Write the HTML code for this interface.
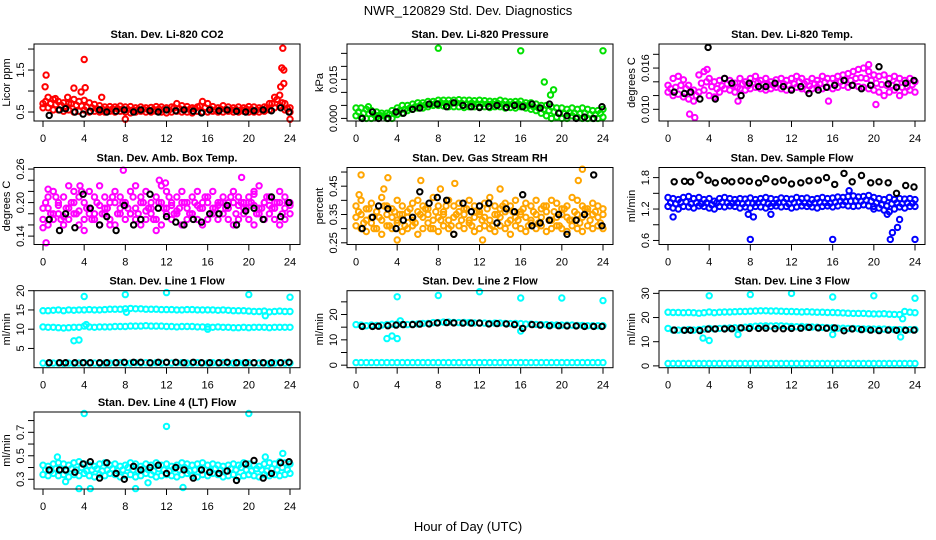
<!DOCTYPE html>
<html><head><meta charset="utf-8">
<style>
html,body{margin:0;padding:0;background:#fff;}
svg{display:block;font-family:"Liberation Sans",Arial,sans-serif;}
</style></head>
<body>
<svg id="chart" width="936" height="540" viewBox="0 0 936 540" xmlns="http://www.w3.org/2000/svg">
<rect width="936" height="540" fill="#fff"/>
<text x="468" y="15" text-anchor="middle" font-size="13">NWR_120829  Std. Dev. Diagnostics</text>
<text x="468" y="531" text-anchor="middle" font-size="13">Hour of Day (UTC)</text>
<g id="plots"></g>
</svg>
<script>
// shared categories (hour of day)
const hrs=[0,0.5,1,1.5,2,2.5,3,3.5,4,4.5,5,5.5,6,6.5,7,7.5,8,8.5,9,9.5,10,10.5,11,11.5,12,12.5,13,13.5,14,14.5,15,15.5,16,16.5,17,17.5,18,18.5,19,19.5,20,20.5,21,21.5,22,22.5,23,23.5,24];
const hrsM=[0.25,0.75,1.25,1.75,2.25,2.75,3.25,3.75,4.25,4.75,5.25,5.75,6.25,6.75,7.25,7.75,8.25,8.75,9.25,9.75,10.25,10.75,11.25,11.75,12.25,12.75,13.25,13.75,14.25,14.75,15.25,15.75,16.25,16.75,17.25,17.75,18.25,18.75,19.25,19.75,20.25,20.75,21.25,21.75,22.25,22.75,23.25,23.75];
const hrsB=[0.6,1.6,2.2,3.1,3.9,4.6,5.5,6.2,7.1,7.9,8.8,9.5,10.4,11.2,12,12.9,13.7,14.6,15.4,16.2,17.1,17.9,18.8,19.7,20.5,21.4,22.2,23.1,23.9];

// Panel 1: CO2
const co2A=[0.7,0.85,0.8,0.75,0.72,0.7,0.8,0.75,0.78,0.72,0.68,0.65,0.62,0.63,0.62,0.64,0.62,0.63,0.6,0.62,0.6,0.61,0.63,0.62,0.6,0.62,0.7,0.65,0.63,0.6,0.62,0.75,0.7,0.63,0.6,0.65,0.62,0.6,0.62,0.6,0.63,0.62,0.6,0.62,0.7,0.85,0.9,0.7,0.6];
const co2B=[0.6,0.6,0.55,0.55,0.52,0.55,0.5,0.52,0.55,0.5,0.52,0.5,0.5,0.52,0.5,0.52,0.5,0.48,0.5,0.52,0.5,0.5,0.52,0.5,0.48,0.5,0.52,0.5,0.5,0.48,0.52,0.5,0.5,0.52,0.5,0.5,0.52,0.5,0.5,0.52,0.5,0.5,0.5,0.52,0.55,0.6,0.65,0.55,0.5];
const co2M=[0.75,0.7,0.68,0.66,0.62,0.7,0.66,0.64,0.62,0.6,0.58,0.57,0.56,0.57,0.58,0.57,0.56,0.55,0.56,0.57,0.55,0.56,0.57,0.56,0.55,0.6,0.58,0.56,0.56,0.58,0.64,0.6,0.57,0.55,0.57,0.56,0.55,0.56,0.55,0.57,0.56,0.55,0.56,0.6,0.7,0.8,0.72,0.58];
const co2Ox=[0.3,0.2,4,4.1,3,23.3,23.2,23.4,23.4,23.1,24,8,2.4,1.2,3.7,5.7];
const co2Oy=[1.38,1.1,1.75,1.08,1.07,2.02,1.55,1.5,1.18,1.1,0.33,0.33,0.85,0.82,0.98,0.85];
const co2K=[0.42,0.55,0.58,0.5,0.45,0.52,0.55,0.5,0.52,0.55,0.5,0.55,0.53,0.5,0.55,0.53,0.55,0.52,0.48,0.55,0.53,0.55,0.52,0.5,0.53,0.55,0.53,0.6,0.5];

// Panel 2: Pressure
const prA=[0.004,0.004,0.0035,0.003,0.0025,0.002,0.002,0.003,0.004,0.005,0.005,0.0055,0.006,0.006,0.0065,0.0065,0.007,0.007,0.007,0.007,0.0072,0.007,0.007,0.0068,0.007,0.0068,0.0066,0.0065,0.007,0.0066,0.0064,0.0065,0.0066,0.006,0.006,0.0055,0.005,0.005,0.0045,0.004,0.004,0.0035,0.004,0.0035,0.004,0.0035,0.003,0.003,0.0035];
const prB=[0.001,0.0005,0,0,0.0005,0.001,0,0,0.0015,0.002,0.003,0.0035,0.004,0.004,0.0045,0.005,0.005,0.0048,0.0045,0.0045,0.0045,0.0042,0.0045,0.0045,0.0045,0.0045,0.0042,0.0045,0.0045,0.004,0.0042,0.004,0.0045,0.004,0.0035,0.003,0.002,0.001,0,0.0005,0,0,0.001,0.0005,0,0,0,0,0.0005];
const prM=[0.0025,0.002,0.0018,0.0015,0.0012,0.001,0.0015,0.002,0.003,0.0035,0.004,0.0045,0.005,0.0052,0.0055,0.0058,0.006,0.0058,0.0058,0.006,0.0058,0.0056,0.0058,0.0056,0.0056,0.0055,0.0056,0.0058,0.0055,0.0054,0.0055,0.0056,0.0052,0.005,0.0045,0.004,0.0035,0.003,0.0025,0.002,0.0018,0.0022,0.002,0.0018,0.002,0.0015,0.0015,0.002];
const prOx=[8,16,24,18.3,19.2,18.9,1.2];
const prOy=[0.027,0.026,0.026,0.014,0.011,0.009,0.0045];
const prK=[0,0.0025,0,0,0.0025,0.002,0.0035,0.004,0.0055,0.0055,0.0045,0.006,0.005,0.0045,0.0042,0.0045,0.005,0.0042,0.005,0.0045,0.0055,0.004,0.0055,0.002,0.001,0,0.0005,0,0.0045];

// Panel 3: Li-820 Temp
const tA=[0.0135,0.0145,0.0148,0.0143,0.0135,0.0128,0.015,0.0155,0.0145,0.014,0.0142,0.0145,0.0142,0.0138,0.0145,0.014,0.0145,0.0148,0.0142,0.0145,0.014,0.0143,0.0145,0.0142,0.0145,0.0148,0.0145,0.014,0.0145,0.0142,0.0148,0.0145,0.0145,0.0148,0.015,0.0152,0.0155,0.0158,0.016,0.0155,0.015,0.0148,0.015,0.0145,0.0148,0.0145,0.0142,0.0145,0.014];
const tB=[0.0125,0.012,0.0122,0.0118,0.0115,0.0112,0.0125,0.0128,0.012,0.0118,0.0125,0.013,0.0128,0.0125,0.013,0.0128,0.013,0.0132,0.013,0.0128,0.013,0.0132,0.013,0.0128,0.013,0.0132,0.013,0.0128,0.013,0.0132,0.013,0.0132,0.013,0.0132,0.0135,0.0132,0.0135,0.0133,0.0132,0.013,0.0128,0.0125,0.012,0.0125,0.0128,0.012,0.0125,0.0128,0.0125];
const tM=[0.013,0.0132,0.0135,0.013,0.0125,0.012,0.0138,0.014,0.0133,0.013,0.0134,0.0137,0.0135,0.0132,0.0137,0.0134,0.0137,0.0139,0.0136,0.0136,0.0135,0.0137,0.0137,0.0135,0.0137,0.014,0.0137,0.0134,0.0137,0.0137,0.0139,0.0138,0.0138,0.014,0.0142,0.0142,0.0145,0.0146,0.0145,0.0142,0.0138,0.0136,0.0135,0.0135,0.0138,0.0132,0.0133,0.0136];
const tOx=[2.1,2.6,4.6,3.8,20.2,15.6,6.8,19.5];
const tOy=[0.0093,0.0088,0.0117,0.0158,0.0107,0.0112,0.0112,0.0165];
const tK=[0.0125,0.0123,0.0125,0.0115,0.019,0.0115,0.0145,0.0138,0.012,0.0138,0.0133,0.0133,0.0138,0.0133,0.0128,0.0133,0.0123,0.0128,0.0132,0.0135,0.0142,0.0135,0.013,0.0135,0.0162,0.0137,0.0132,0.0138,0.0142];

// Panel 4: Amb Box Temp
const aA=[0.19,0.21,0.22,0.2,0.21,0.23,0.22,0.21,0.2,0.22,0.21,0.23,0.21,0.2,0.22,0.21,0.2,0.22,0.23,0.21,0.22,0.2,0.21,0.23,0.22,0.2,0.21,0.22,0.2,0.21,0.22,0.2,0.21,0.22,0.2,0.21,0.2,0.22,0.21,0.2,0.21,0.22,0.23,0.2,0.21,0.2,0.22,0.21,0.2];
const aB=[0.17,0.16,0.17,0.18,0.16,0.17,0.18,0.16,0.17,0.18,0.17,0.16,0.18,0.17,0.16,0.18,0.17,0.18,0.17,0.16,0.17,0.18,0.17,0.16,0.18,0.17,0.18,0.16,0.17,0.18,0.17,0.16,0.17,0.18,0.17,0.18,0.17,0.16,0.17,0.18,0.17,0.16,0.18,0.17,0.18,0.17,0.16,0.17,0.18];
const aC=[0.155,0.19,0.18,0.195,0.175,0.19,0.2,0.185,0.15,0.19,0.18,0.195,0.19,0.16,0.2,0.19,0.195,0.18,0.19,0.2,0.185,0.19,0.15,0.2,0.19,0.195,0.185,0.2,0.19,0.18,0.195,0.19,0.2,0.19,0.195,0.2,0.19,0.2,0.195,0.19,0.2,0.195,0.19,0.2,0.195,0.19,0.2,0.19,0.195];
const aM=[0.2,0.18,0.21,0.17,0.19,0.2,0.18,0.22,0.19,0.17,0.2,0.18,0.19,0.21,0.18,0.2,0.19,0.21,0.18,0.2,0.19,0.17,0.2,0.19,0.21,0.18,0.19,0.2,0.18,0.2,0.19,0.21,0.18,0.19,0.2,0.19,0.21,0.18,0.2,0.19,0.2,0.18,0.19,0.21,0.19,0.2,0.18,0.2];
const aOx=[0.3,7.8,11.3,19.3,11.9,3.6,0.5,20.5];
const aOy=[0.128,0.258,0.24,0.245,0.235,0.23,0.224,0.215];
const aK=[0.17,0.15,0.18,0.155,0.215,0.19,0.16,0.175,0.15,0.195,0.16,0.17,0.215,0.19,0.175,0.165,0.16,0.17,0.165,0.18,0.18,0.195,0.16,0.185,0.19,0.17,0.21,0.175,0.2];

// Panel 5: Gas Stream RH
const rA=[0.38,0.4,0.37,0.39,0.36,0.41,0.38,0.37,0.4,0.38,0.36,0.39,0.4,0.38,0.37,0.41,0.38,0.36,0.4,0.38,0.39,0.37,0.4,0.38,0.36,0.39,0.41,0.38,0.37,0.39,0.38,0.4,0.36,0.39,0.38,0.4,0.37,0.38,0.4,0.39,0.37,0.38,0.41,0.4,0.38,0.37,0.39,0.38,0.37];
const rB=[0.31,0.3,0.29,0.32,0.3,0.28,0.31,0.3,0.32,0.29,0.3,0.31,0.28,0.3,0.32,0.3,0.29,0.31,0.3,0.28,0.31,0.3,0.32,0.29,0.3,0.31,0.3,0.29,0.31,0.3,0.28,0.31,0.3,0.29,0.32,0.3,0.31,0.29,0.3,0.31,0.3,0.29,0.31,0.3,0.29,0.31,0.3,0.31,0.3];
const rC=[0.34,0.35,0.33,0.34,0.36,0.33,0.35,0.34,0.33,0.35,0.34,0.33,0.36,0.34,0.35,0.33,0.34,0.35,0.33,0.34,0.36,0.35,0.33,0.34,0.35,0.34,0.33,0.35,0.34,0.36,0.33,0.34,0.35,0.34,0.33,0.35,0.34,0.36,0.33,0.34,0.35,0.34,0.33,0.35,0.34,0.36,0.35,0.34,0.35];
const rM=[0.36,0.32,0.37,0.3,0.34,0.38,0.31,0.36,0.35,0.31,0.37,0.32,0.35,0.37,0.3,0.36,0.33,0.38,0.31,0.35,0.33,0.37,0.31,0.36,0.33,0.37,0.31,0.35,0.38,0.32,0.36,0.33,0.37,0.31,0.36,0.32,0.38,0.33,0.36,0.31,0.37,0.33,0.36,0.32,0.37,0.33,0.36,0.32];
const rOx=[0.5,3.1,6.3,22,0.3,8.2,9.6,21.6,2.7,14,4,12.3];
const rOy=[0.49,0.48,0.47,0.51,0.42,0.44,0.46,0.47,0.44,0.44,0.26,0.26];
const rK=[0.3,0.34,0.38,0.37,0.3,0.33,0.34,0.43,0.39,0.41,0.4,0.28,0.39,0.36,0.38,0.39,0.32,0.37,0.36,0.42,0.31,0.32,0.33,0.35,0.28,0.33,0.35,0.49,0.31];

// Panel 6: Sample Flow
const sA=[1.42,1.4,1.38,1.42,1.44,1.4,1.42,1.38,1.4,1.35,1.4,1.42,1.4,1.38,1.4,1.39,1.41,1.38,1.4,1.42,1.4,1.38,1.41,1.4,1.39,1.42,1.4,1.41,1.38,1.4,1.42,1.4,1.41,1.43,1.42,1.44,1.45,1.43,1.44,1.46,1.42,1.4,1.38,1.42,1.38,1.4,1.39,1.4,1.38];
const sB=[1.25,1.22,1.2,1.25,1.24,1.22,1.26,1.25,1.22,1.2,1.25,1.24,1.26,1.25,1.22,1.24,1.22,1.25,1.24,1.22,1.25,1.26,1.24,1.25,1.22,1.24,1.26,1.25,1.24,1.22,1.25,1.26,1.24,1.26,1.28,1.26,1.25,1.26,1.28,1.26,1.25,1.22,1.18,1.15,1.2,1.24,1.22,1.25,1.25];
const sM=[1.32,1.3,1.33,1.34,1.3,1.32,1.3,1.32,1.28,1.32,1.33,1.32,1.31,1.32,1.3,1.32,1.31,1.32,1.33,1.3,1.31,1.32,1.33,1.3,1.32,1.33,1.32,1.3,1.32,1.33,1.32,1.31,1.33,1.35,1.34,1.35,1.36,1.35,1.37,1.35,1.32,1.28,1.26,1.3,1.32,1.3,1.32,1.31];
const sOx=[8,16,24,21.6,21.8,22.3,22.5,0.5,7.8,8.3,10,21.3,20,17.6];
const sOy=[0.62,0.62,0.62,0.62,0.75,0.85,1.0,1.05,1.1,1.05,1.1,1.1,1.2,1.55];
const sK=[1.72,1.73,1.72,1.85,1.75,1.7,1.74,1.72,1.74,1.73,1.7,1.78,1.72,1.75,1.68,1.7,1.74,1.75,1.8,1.67,1.88,1.72,1.84,1.7,1.72,1.7,1.5,1.65,1.62];

// Panel 7: Line 1 Flow
const l1A=[14.8,14.8,14.9,15,14.8,15,14.9,15,15,15.1,15,15,15.1,15.2,15.2,15.2,15.3,15.4,15.3,15.3,15.2,15.2,15.2,15.1,15.1,15.1,15,15,15.1,15.1,15,15,15,15,14.9,15,14.9,14.8,14.8,14.8,14.7,14.6,14.6,14.7,14.5,14.6,14.7,14.6,14.6];
const l1B=[10.6,10.5,10.5,10.4,10.3,10.4,10.5,10.5,10.8,10.6,10.5,10.6,10.6,10.6,10.7,10.7,10.7,10.8,10.8,10.8,10.9,10.8,10.8,10.8,10.7,10.7,10.6,10.7,10.7,10.7,10.6,10.6,10.6,10.5,10.6,10.5,10.5,10.4,10.4,10.5,10.4,10.5,10.5,10.5,10.4,10.5,10.5,10.5,10.5];
const l1C=[1.2,1.1,1.2,1.2,1.1,1.2,1.1,1.2,1.3,1.2,1.2,1.1,1.2,1.2,1.3,1.3,1.2,1.2,1.3,1.2,1.3,1.2,1.3,1.2,1.3,1.2,1.3,1.3,1.2,1.2,1.3,1.2,1.2,1.3,1.2,1.3,1.2,1.2,1.3,1.2,1.3,1.2,1.2,1.2,1.1,1.2,1.3,1.2,1.2];
const l1Ox=[4,8,12,20,24,3,3.5,4.2,16,21.6,8.1];
const l1Oy=[18.5,19,19.5,19,18.3,7,7.2,11.2,10,13.5,14.4];
const l1K=[1.3,1.3,1.3,1.3,1.3,1.3,1.3,1.3,1.3,1.4,1.4,1.4,1.3,1.4,1.4,1.4,1.3,1.4,1.3,1.3,1.3,1.4,1.3,1.3,1.3,1.3,1.3,1.3,1.4];

// Panel 8: Line 2 Flow
const l2A=[16,15.8,15.6,15.8,15.7,15.8,16,16.2,16.2,16.1,16,16.2,16.3,16.5,16.5,16.8,16.8,17,17,16.9,16.8,16.9,16.8,16.7,16.7,16.6,16.5,16.6,16.6,16.5,16.4,16.5,16.4,16.2,16.2,16.1,16,16,15.9,15.9,15.8,15.8,15.8,15.7,15.7,15.6,15.6,15.6,15.6];
const l2C=[1,1,1,1,1,1,1,1,1,1,1,1,1,1,1,1,1,1,1,1,1,1,1,1,1,1,1,1,1,1,1,1,1,1,1,1,1,1,1,1,1,1,1,1,1,1,1,1,1];
const l2Ox=[4,8,12,16,20,24,3,3.5,4,4.3,16];
const l2Oy=[27,27.5,29,26.5,26.5,25.5,10.5,11.5,10.5,17.5,13.5];
const l2K=[15.3,15.3,15.4,15.6,15.8,16,16,16.2,16.3,16.7,16.8,16.7,16.6,16.6,16.6,16.3,16.4,16.3,16,14.5,16,15.8,15.6,15.6,15.5,15.5,15.3,15.3,15.3];

// Panel 9: Line 3 Flow
const l3A=[22.2,22.1,22.1,22,22.1,22,21.8,22,22.3,22,22.2,22.3,22.3,22.4,22.5,22.5,22.6,22.7,22.8,22.8,22.7,22.7,22.6,22.5,22.5,22.4,22.3,22.4,22.3,22.2,22.2,22.1,22.1,22,21.9,21.8,21.7,21.7,21.7,21.6,21.5,21.5,21.6,21.4,21.3,21.2,22.5,22.2,22];
const l3B=[15.5,14.8,14.8,14.8,15,14.8,15,15.2,15.5,15.3,15.5,15.6,15.7,15.8,15.8,16,16.2,16.4,16.5,16.6,16.5,16.6,16.6,16.4,16.3,16.2,16.3,16.1,16.1,16,15.9,15.8,15.8,15.6,15.6,15.5,15.5,15.4,15.3,15.3,15.2,15.2,15.2,15.1,15,15,15,15,15];
const l3C=[1,1,1,1,1,1,1,1,1,1,1,1,1,1,1,1,1,1,1,1,1,1,1,1,1,1,1,1,1,1,1,1,1,1,1,1,1,1,1,1,1,1,1,1,1,1,1,1,1];
const l3Ox=[4,8,12,16,20,24,3.4,4,22.6,16,6.8,22.8];
const l3Oy=[29,29.5,30,28.5,29,28,11.5,10.5,12,13,13,19.5];
const l3K=[14.8,14.7,14.7,14.6,15.2,15.3,15.3,15.4,15.7,15.5,15.5,15.6,15.4,15.4,15.5,15.6,15.9,15.7,15.6,15.7,14.5,15.3,15,14.8,14.6,14.8,14.7,14.7,14.8];

// Panel 10: Line 4 (LT) Flow
const l4A=[0.42,0.41,0.43,0.44,0.43,0.42,0.44,0.45,0.43,0.42,0.41,0.43,0.44,0.42,0.43,0.41,0.42,0.44,0.43,0.41,0.43,0.42,0.44,0.42,0.43,0.41,0.42,0.44,0.43,0.42,0.43,0.44,0.42,0.43,0.42,0.41,0.42,0.43,0.42,0.44,0.43,0.42,0.41,0.43,0.44,0.43,0.45,0.44,0.43];
const l4B=[0.34,0.33,0.35,0.33,0.34,0.32,0.34,0.33,0.35,0.33,0.32,0.34,0.33,0.35,0.34,0.32,0.33,0.34,0.32,0.33,0.35,0.34,0.32,0.33,0.34,0.33,0.32,0.34,0.35,0.33,0.32,0.34,0.33,0.35,0.34,0.32,0.33,0.34,0.32,0.33,0.34,0.33,0.32,0.34,0.33,0.34,0.33,0.34,0.35];
const l4M=[0.38,0.37,0.39,0.38,0.37,0.39,0.38,0.4,0.37,0.38,0.39,0.37,0.38,0.39,0.37,0.38,0.4,0.38,0.37,0.39,0.38,0.37,0.39,0.38,0.37,0.39,0.38,0.4,0.37,0.38,0.39,0.38,0.37,0.39,0.38,0.37,0.39,0.38,0.4,0.38,0.37,0.39,0.38,0.37,0.39,0.38,0.4,0.38];
const l4Ox=[4,20,12,3.5,4.6,9,13.6,1.4,21.6,23.3,2.2,10.2];
const l4Oy=[0.86,0.86,0.75,0.22,0.22,0.22,0.23,0.49,0.49,0.52,0.28,0.27];
const l4K=[0.38,0.38,0.38,0.36,0.43,0.45,0.31,0.44,0.35,0.3,0.41,0.38,0.4,0.42,0.35,0.4,0.38,0.31,0.38,0.36,0.35,0.37,0.29,0.43,0.46,0.31,0.35,0.44,0.45];

const RED='#ff0000',GRN='#00e000',MAG='#ff00ff',ORG='#ffa500',BLU='#0000ff',CYA='#00ffff',BLK='#000000';
const colL=[34,347,659], rowT=[44,167.5,290.7,412], PW=266, PH=77;

const panels=[
 {name:'co2',title:'Stan. Dev. Li-820 CO2',ylab:'Licor ppm',c:0,r:0,ymin:0.286,ymax:2.12,ticks:[0.5,1,1.5,2],labels:['0.5','','1.5',''],
  series:[[hrs,co2A,RED],[hrs,co2B,RED],[hrsM,co2M,RED],[co2Ox,co2Oy,RED],[hrsB,co2K,BLK]]},
 {name:'pressure',title:'Stan. Dev. Li-820 Pressure',ylab:'kPa',c:1,r:0,ymin:-0.001,ymax:0.0286,ticks:[0,0.005,0.01,0.015,0.02,0.025],labels:['0.000','','','0.015','',''],
  series:[[hrs,prA,GRN],[hrs,prB,GRN],[hrsM,prM,GRN],[prOx,prOy,GRN],[hrsB,prK,BLK]]},
 {name:'li820-temp',title:'Stan. Dev. Li-820 Temp.',ylab:'degrees C',c:2,r:0,ymin:0.0083,ymax:0.0195,ticks:[0.010,0.012,0.014,0.016,0.018],labels:['0.010','','','0.016',''],
  series:[[hrs,tA,MAG],[hrs,tB,MAG],[hrsM,tM,MAG],[tOx,tOy,MAG],[hrsB,tK,BLK]]},
 {name:'amb-box-temp',title:'Stan. Dev. Amb. Box Temp.',ylab:'degrees C',c:0,r:1,ymin:0.125,ymax:0.2628,ticks:[0.14,0.16,0.18,0.2,0.22,0.24,0.26],labels:['0.14','','','0.20','','','0.26'],
  series:[[hrs,aA,MAG],[hrs,aB,MAG],[hrs,aC,MAG],[hrsM,aM,MAG],[aOx,aOy,MAG],[hrsB,aK,BLK]]},
 {name:'gas-stream-rh',title:'Stan. Dev. Gas Stream RH',ylab:'percent',c:1,r:1,ymin:0.244,ymax:0.516,ticks:[0.25,0.3,0.35,0.4,0.45,0.5],labels:['0.25','','0.35','','0.45',''],
  series:[[hrs,rA,ORG],[hrs,rB,ORG],[hrs,rC,ORG],[hrsM,rM,ORG],[rOx,rOy,ORG],[hrsB,rK,BLK]]},
 {name:'sample-flow',title:'Stan. Dev. Sample Flow',ylab:'ml/min',c:2,r:1,ymin:0.523,ymax:1.993,ticks:[0.6,0.9,1.2,1.5,1.8],labels:['0.6','','1.2','','1.8'],
  series:[[hrs,sA,BLU],[hrs,sB,BLU],[hrsM,sM,BLU],[sOx,sOy,BLU],[hrsB,sK,BLK]]},
 {name:'line1-flow',title:'Stan. Dev. Line 1 Flow',ylab:'ml/min',c:0,r:2,ymin:0,ymax:20,ticks:[5,10,15,20],labels:['5','10','15','20'],
  series:[[hrs,l1A,CYA],[hrs,l1B,CYA],[hrs,l1C,CYA],[l1Ox,l1Oy,CYA],[hrsB,l1K,BLK]]},
 {name:'line2-flow',title:'Stan. Dev. Line 2 Flow',ylab:'ml/min',c:1,r:2,ymin:-1,ymax:29.4,ticks:[0,5,10,15,20,25],labels:['0','','10','','20',''],
  series:[[hrs,l2A,CYA],[hrs,l2C,CYA],[l2Ox,l2Oy,CYA],[hrsB,l2K,BLK]]},
 {name:'line3-flow',title:'Stan. Dev. Line 3 Flow',ylab:'ml/min',c:2,r:2,ymin:-0.75,ymax:31.1,ticks:[0,10,20,30],labels:['0','10','20','30'],
  series:[[hrs,l3A,CYA],[hrs,l3B,CYA],[hrs,l3C,CYA],[l3Ox,l3Oy,CYA],[hrsB,l3K,BLK]]},
 {name:'line4-lt-flow',title:'Stan. Dev. Line 4 (LT) Flow',ylab:'ml/min',c:0,r:3,ymin:0.217,ymax:0.873,ticks:[0.3,0.4,0.5,0.6,0.7,0.8],labels:['0.3','','0.5','','0.7',''],
  series:[[hrs,l4A,CYA],[hrs,l4B,CYA],[hrsM,l4M,CYA],[l4Ox,l4Oy,CYA],[hrsB,l4K,BLK]]}
];
const xTicks=[0,4,8,12,16,20,24];
const NS='http://www.w3.org/2000/svg';
const root=document.getElementById('plots');
function mk(tag,attrs,parent){const e=document.createElementNS(NS,tag);for(const k in attrs)e.setAttribute(k,attrs[k]);parent.appendChild(e);return e;}

panels.forEach(p=>{
  const L=colL[p.c], T=rowT[p.r], B=T+PH, R=L+PW;
  const xs=h=>L+9+h*(247/24);
  const ys=v=>B-(v-p.ymin)/(p.ymax-p.ymin)*PH;
  const g=mk('g',{},root);
  
  
  const t=mk('text',{x:(L+R)/2,y:T-6,'text-anchor':'middle','font-size':11,'font-weight':'bold'},g);
  t.textContent=p.title;
  
  
  const pg=mk('g',{fill:'none','stroke-width':2},g);
  
  
  p.series.forEach(s=>{
    const [xa,ya,col]=s;
    for(let i=0;i<ya.length;i++){
      const c=mk('circle',{cx:xs(xa[i]).toFixed(1),cy:ys(ya[i]).toFixed(1),r:2.7,stroke:col},pg);
      
      
    }
  });
  const bx=mk('rect',{x:L,y:T,width:PW,height:PH,fill:'none',stroke:'#000','stroke-width':1},g);
  
  
  const xa=mk('g',{},g);
  
  
  xTicks.forEach(h=>{
    mk('line',{x1:xs(h),x2:xs(h),y1:B,y2:B+6,stroke:'#000'},xa);
    const tl=mk('text',{x:xs(h),y:B+21,'text-anchor':'middle','font-size':11},xa);
    tl.textContent=h;
    
    
  });
  const ya=mk('g',{},g);
  
  
  p.ticks.forEach((v,i)=>{
    const y=ys(v);
    mk('line',{x1:L-6,x2:L,y1:y,y2:y,stroke:'#000'},ya);
    if(p.labels[i]){
      const tl=mk('text',{x:L-10,y:y,'text-anchor':'middle','font-size':11,transform:`rotate(-90 ${L-10} ${y})`},ya);
      tl.textContent=p.labels[i];
      
      
    }
  });
  const yt=mk('text',{x:L-24,y:(T+B)/2,'text-anchor':'middle','font-size':11,transform:`rotate(-90 ${L-24} ${(T+B)/2})`},g);
  yt.textContent=p.ylab;
  
  
});
</script>
</body></html>
